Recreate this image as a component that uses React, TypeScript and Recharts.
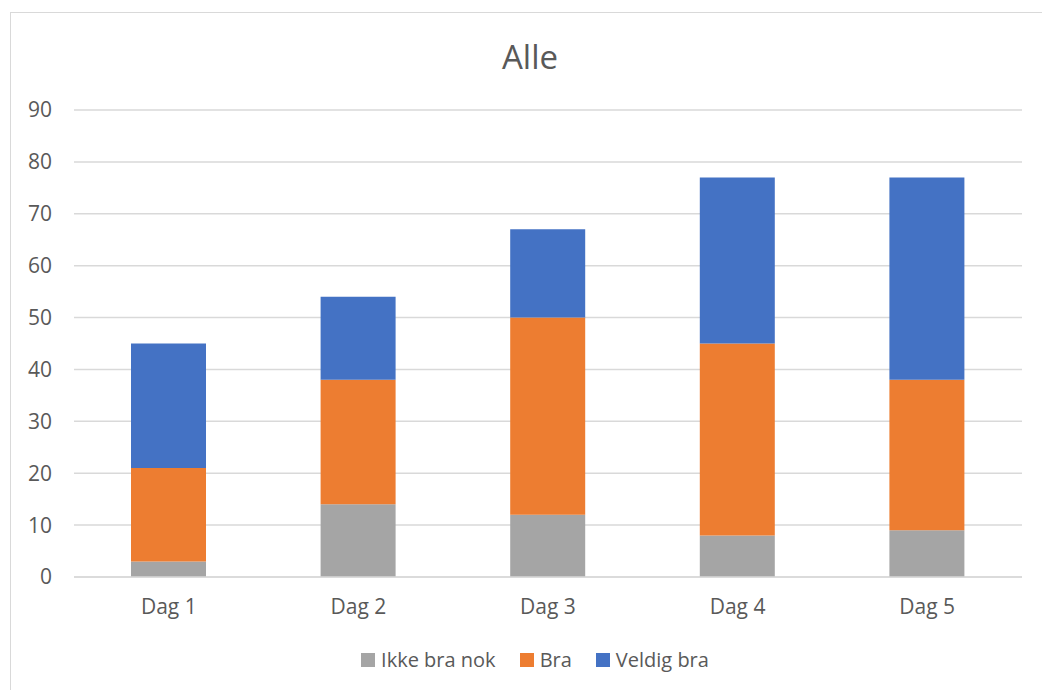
import { BarChart, Bar, XAxis, YAxis, CartesianGrid } from "recharts";

const days = ["Dag 1", "Dag 2", "Dag 3", "Dag 4", "Dag 5"];
const ikkeBraNok = [3, 14, 12, 8, 9];
const bra = [18, 24, 38, 37, 29];
const veldigBra = [24, 16, 17, 32, 39];
const yTicks = [0, 10, 20, 30, 40, 50, 60, 70, 80, 90];

const series = [
  { key: "ikke", name: "Ikke bra nok", color: "#a5a5a5" },
  { key: "bra", name: "Bra", color: "#ed7d31" },
  { key: "veldig", name: "Veldig bra", color: "#4472c4" },
];

const data = days.map((day, i) => ({
  day,
  ikke: ikkeBraNok[i],
  bra: bra[i],
  veldig: veldigBra[i],
}));

const font = "'Open Sans', 'Liberation Sans', sans-serif";

export default function App() {
  return (
    <div
      style={{
        position: "absolute",
        left: 0,
        top: 0,
        width: 1042,
        height: 690,
        overflow: "hidden",
        background: "#fff",
        fontFamily: font,
      }}
    >
      {/* chart area frame */}
      <div
        style={{
          position: "absolute",
          left: 10,
          top: 12,
          width: 1100,
          height: 740,
          border: "1.5px solid #d9d9d9",
        }}
      />
      <div
        style={{
          position: "absolute",
          left: 430,
          width: 200,
          top: 34,
          textAlign: "center",
          fontSize: 33,
          lineHeight: "45px",
          color: "#595959",
        }}
      >
        Alle
      </div>
      <div style={{ position: "absolute", left: 0, top: 0 }}>
        <BarChart
          width={1042}
          height={690}
          data={data}
          margin={{ top: 110, right: 20, bottom: 73, left: 0 }}
        >
          <CartesianGrid vertical={false} stroke="#d9d9d9" strokeWidth={1.5} />
          <XAxis
            dataKey="day"
            height={40}
            tickLine={false}
            axisLine={{ stroke: "#d9d9d9", strokeWidth: 1.5 }}
            tick={{ fill: "#595959", fontSize: 21, fontFamily: font }}
            tickMargin={16}
          />
          <YAxis
            width={74}
            domain={[0, 90]}
            ticks={yTicks}
            interval={0}
            tickLine={false}
            axisLine={false}
            tickSize={0}
            tickMargin={22}
            tick={{ fill: "#595959", fontSize: 21, fontFamily: font }}
          />
          {series.map((s) => (
            <Bar
              key={s.key}
              dataKey={s.key}
              name={s.name}
              stackId="a"
              fill={s.color}
              barSize={75}
              isAnimationActive={false}
            />
          ))}
        </BarChart>
      </div>
      <div
        style={{
          position: "absolute",
          left: 0,
          width: 1070,
          top: 646,
          display: "flex",
          justifyContent: "center",
          fontSize: 20,
          lineHeight: "28px",
          color: "#595959",
        }}
      >
        {series.map((s) => (
          <div
            key={s.key}
            style={{ display: "flex", alignItems: "center", margin: "0 12px" }}
          >
            <span
              style={{
                width: 14,
                height: 14,
                background: s.color,
                display: "inline-block",
                marginRight: 6,
              }}
            />
            <span>{s.name}</span>
          </div>
        ))}
      </div>
    </div>
  );
}
